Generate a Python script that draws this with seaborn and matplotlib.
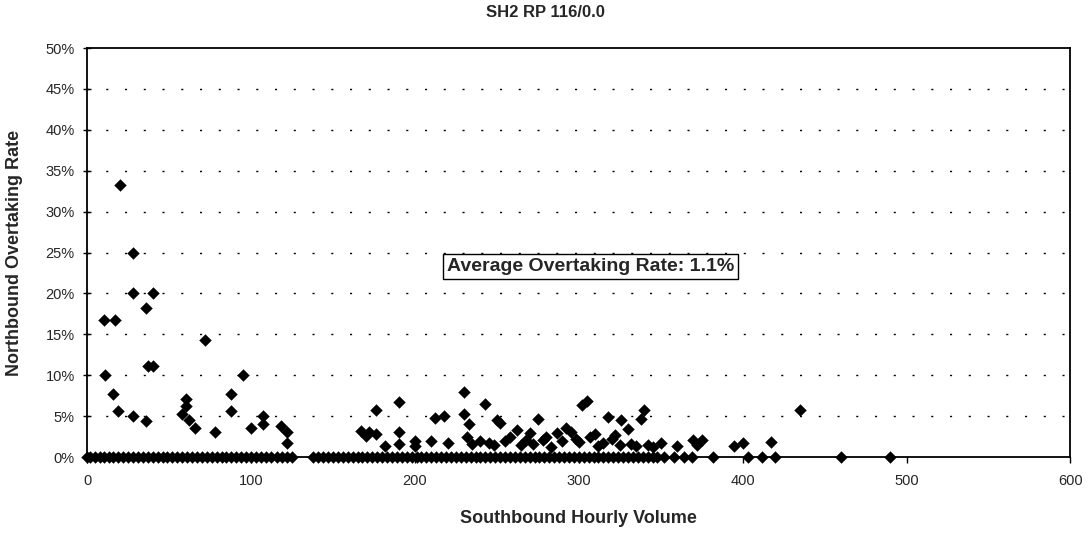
import numpy as np
import pandas as pd
import matplotlib
matplotlib.use('Agg')
import matplotlib.pyplot as plt
import seaborn as sns
from matplotlib.ticker import PercentFormatter

# southbound volume / northbound overtaking rate (%)
vol_pos = [20, 10, 17, 28, 28, 40, 36, 37, 40, 72, 11, 95, 16, 88, 19, 88, 58, 28,
           60, 60, 62, 36, 66, 78, 100, 107, 107, 118, 122, 122,
           167, 170, 172, 176, 176, 182, 190, 190, 190, 200, 200, 210, 212, 218, 220,
           230, 230, 232, 233, 235, 240, 243, 245, 248, 250, 252, 255, 258, 262, 265,
           268, 270, 272, 275, 278, 280, 283, 287, 290, 292, 295, 298, 300, 302, 305,
           307, 310, 312, 315, 318, 320, 322, 325, 326, 330, 332, 335, 338, 340, 342,
           345, 350, 360, 370, 372, 375, 395, 400, 417, 435]
rate_pos = [33.3, 16.7, 16.7, 25.0, 20.0, 20.0, 18.2, 11.1, 11.1, 14.3, 10.0, 10.0, 7.7, 7.7, 5.6, 5.6, 5.3, 5.0,
            6.2, 7.1, 4.5, 4.4, 3.6, 3.1, 3.5, 4.0, 5.0, 3.8, 3.0, 1.7,
            3.2, 2.6, 3.0, 5.7, 2.8, 1.4, 6.7, 3.1, 1.6, 1.9, 1.4, 1.9, 4.8, 5.0, 1.7,
            8.0, 5.3, 2.5, 4.0, 1.6, 2.0, 6.5, 1.7, 1.5, 4.5, 4.2, 2.0, 2.5, 3.3, 1.5,
            2.1, 2.9, 1.6, 4.6, 2.1, 2.4, 1.2, 2.9, 1.9, 3.5, 3.1, 2.2, 1.8, 6.3, 6.9,
            2.4, 2.8, 1.4, 1.7, 4.9, 2.2, 2.7, 1.5, 4.5, 3.4, 1.6, 1.4, 4.6, 5.8, 1.5,
            1.2, 1.7, 1.3, 2.1, 1.5, 2.1, 1.4, 1.7, 1.8, 5.7]

# hours with no overtaking
vol_zero = [0, 2, 5, 8, 10, 13, 16, 19, 22, 25, 28, 31, 34, 37, 40, 43, 46, 49, 52, 55,
            58, 61, 64, 67, 70, 73, 76, 79, 82, 85, 88, 91, 94, 97, 100, 103, 106, 109,
            112, 116, 119, 122, 125,
            138, 141, 144, 147, 150, 153, 156, 159, 162, 165, 168, 171, 174, 177, 180,
            183, 186, 189, 192, 195, 198, 201, 204, 207, 210, 213, 216, 219, 222, 225,
            228, 231, 234, 237, 240, 243, 246, 249, 252, 255, 258, 261, 264, 267, 270,
            273, 276, 279, 282, 285, 288, 291, 294, 297, 300, 303, 306, 309, 312, 315,
            318, 321, 324, 327, 330, 333, 336, 339, 342, 345, 348,
            352, 358, 364, 369, 382, 403, 412, 420, 460, 490]

df = pd.DataFrame({'volume': vol_pos + vol_zero,
                   'rate': rate_pos + [0.0] * len(vol_zero)})

sns.set_style('white')
plt.rcParams['font.family'] = ['Liberation Sans', 'DejaVu Sans']

fig = plt.figure(figsize=(10.9, 5.46), dpi=100)
ax = fig.add_axes([0.080, 0.163, 0.902, 0.749])

sns.scatterplot(data=df, x='volume', y='rate', marker='D', s=36, color='black',
                edgecolor='black', linewidth=0.3, ax=ax, zorder=3, clip_on=False)

ax.set_xlim(0, 600)
ax.set_ylim(0, 50)
ax.set_xticks([0, 100, 200, 300, 400, 500, 600])
ax.set_yticks(np.arange(0, 51, 5))
ax.yaxis.set_major_formatter(PercentFormatter(decimals=0))
ax.tick_params(axis='x', direction='out', length=4, width=1, labelsize=10.5, pad=8, color='black')
ax.tick_params(axis='y', direction='inout', length=6, width=1, labelsize=10.5, pad=6, color='black')
ax.tick_params(left=True, bottom=True)

for y in np.arange(5, 50, 5):
    ax.axhline(y, color='black', linestyle=(0, (1.5, 12)), linewidth=1, zorder=1)

for sp in ax.spines.values():
    sp.set_visible(True)
    sp.set_color('black')
    sp.set_linewidth(1.3)

ax.set_xlabel('Southbound Hourly Volume', fontsize=13, fontweight='bold', labelpad=16)
ax.set_ylabel('Northbound Overtaking Rate', fontsize=13, fontweight='bold', labelpad=16)
fig.suptitle('SH2 RP 116/0.0', fontsize=12, fontweight='bold', y=0.99)

ax.text(307, 23.3, 'Average Overtaking Rate: 1.1%', ha='center', va='center',
        fontsize=14, fontweight='bold', zorder=4,
        bbox=dict(boxstyle='square,pad=0.2', facecolor='white', edgecolor='black', linewidth=1))

fig.savefig('out.png', dpi=100)
